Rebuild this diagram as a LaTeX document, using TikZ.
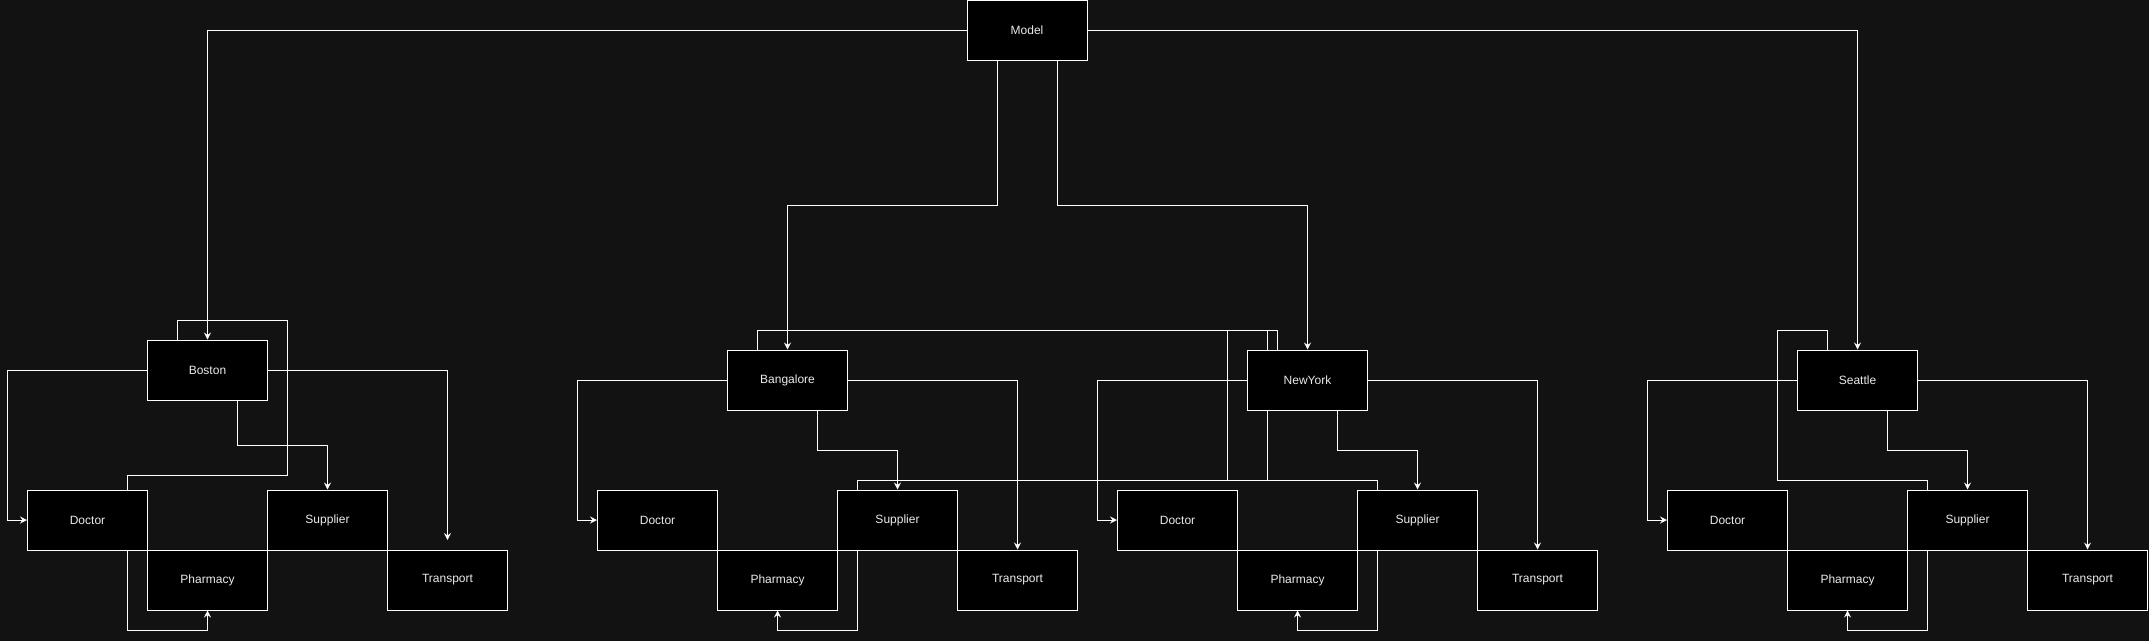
\documentclass[tikz,border=0pt]{standalone}
\usepackage{fontspec}
\setmainfont{Liberation Sans}
\usetikzlibrary{arrows.meta}
\definecolor{bgc}{RGB}{18,18,18}
\definecolor{txt}{RGB}{235,235,235}
\pgfdeclarelayer{bg}
\pgfsetlayers{bg,main}
\tikzset{
  box/.style={draw=white, fill=black, line width=1pt, minimum width=120pt, minimum height=60pt,
    inner sep=0pt, text=txt, font=\fontsize{12}{14}\selectfont},
  link/.style={draw=white, line width=1pt},
  arr/.style={link, -{Stealth[length=7pt,width=7pt,inset=2.5pt]}}
}
\begin{document}
\begin{tikzpicture}[x=1pt,y=-1pt]
\useasboundingbox (0,0) rectangle (2149,641);
% nodes
\node[box] (model) at (1027,30.5) {Model};
\node[box] (boston) at (207.5,370) {Boston};
\node[box] (bdoc) at (87.5,520) {Doctor};
\node[box] (bpha) at (207.5,580) {Pharmacy};
\node[box] (bsup) at (327.5,520) {Supplier};
\node[box] (btra) at (447.5,580) {Transport};
\coordinate (btip) at (447.5,540);
\node[box] (bang) at (787.5,380) {Bangalore};
\node[box] (gdoc) at (657.5,520) {Doctor};
\node[box] (gpha) at (777.5,580) {Pharmacy};
\node[box] (gsup) at (897.5,520) {Supplier};
\node[box] (gtra) at (1017.5,580) {Transport};
\node[box] (ny) at (1307.5,380) {NewYork};
\node[box] (ndoc) at (1177.5,520) {Doctor};
\node[box] (npha) at (1297.5,580) {Pharmacy};
\node[box] (nsup) at (1417.5,520) {Supplier};
\node[box] (ntra) at (1537.5,580) {Transport};
\node[box] (sea) at (1857.5,380) {Seattle};
\node[box] (sdoc) at (1727.5,520) {Doctor};
\node[box] (spha) at (1847.5,580) {Pharmacy};
\node[box] (ssup) at (1967.5,520) {Supplier};
\node[box] (stra) at (2087.5,580) {Transport};
\begin{pgfonlayer}{bg}
\fill[bgc] (0,0) rectangle (2149,641);
% model
\draw[arr] (model.west) -| (boston.north);
\draw[arr] (model.east) -| (sea.north);
\draw[arr] ([xshift=-30pt]model.south) -- (997,205) -| (bang.north);
\draw[arr] ([xshift=30pt]model.south) -- (1057,205) -| (ny.north);
% boston
\draw[arr] (boston.west) -- (7.5,370) |- (bdoc.west);
\draw[arr] (boston.east) -| (btip);
\draw[arr] ([xshift=30pt]boston.south) -- (237.5,445) -| (bsup.north);
\draw[link] ([xshift=40pt]bdoc.north) -- (127.5,475) -- (287.5,475) -- (287.5,320) -- (177.5,320) -- ([xshift=-30pt]boston.north);
\draw[arr] ([xshift=40pt]bdoc.south) -- (127.5,630) -| (bpha.south);
% bangalore
\draw[arr] (bang.west) -- (577.5,380) |- (gdoc.west);
\draw[arr] (bang.east) -| (gtra.north);
\draw[arr] ([xshift=30pt]bang.south) -- (817.5,450) -| (gsup.north);
\draw[arr] ([xshift=-40pt]gsup.south) -- (857.5,630) -| (gpha.south);
% cross links
\draw[link] ([xshift=-40pt]ny.north) -- (1267.5,330) -- (757.5,330) -- ([xshift=-30pt]bang.north);
\draw[link] ([xshift=-40pt]ny.south) -- (1267.5,480) -- (857.5,480) -- ([xshift=-40pt]gsup.north);
\draw[link] ([xshift=-40pt]nsup.north) -- (1377.5,480) -- (1227.5,480) -- (1227.5,330) -- (1277.5,330) -- ([xshift=-30pt]ny.north);
% new york
\draw[arr] (ny.west) -- (1097.5,380) |- (ndoc.west);
\draw[arr] (ny.east) -| (ntra.north);
\draw[arr] ([xshift=30pt]ny.south) -- (1337.5,450) -| (nsup.north);
\draw[arr] ([xshift=-40pt]nsup.south) -- (1377.5,630) -| (npha.south);
% seattle
\draw[arr] (sea.west) -- (1647.5,380) |- (sdoc.west);
\draw[arr] (sea.east) -| (stra.north);
\draw[arr] ([xshift=30pt]sea.south) -- (1887.5,450) -| (ssup.north);
\draw[arr] ([xshift=-40pt]ssup.south) -- (1927.5,630) -| (spha.south);
\draw[link] ([xshift=-40pt]ssup.north) -- (1927.5,480) -- (1777.5,480) -- (1777.5,330) -- (1827.5,330) -- ([xshift=-30pt]sea.north);
\end{pgfonlayer}
\end{tikzpicture}
\end{document}
